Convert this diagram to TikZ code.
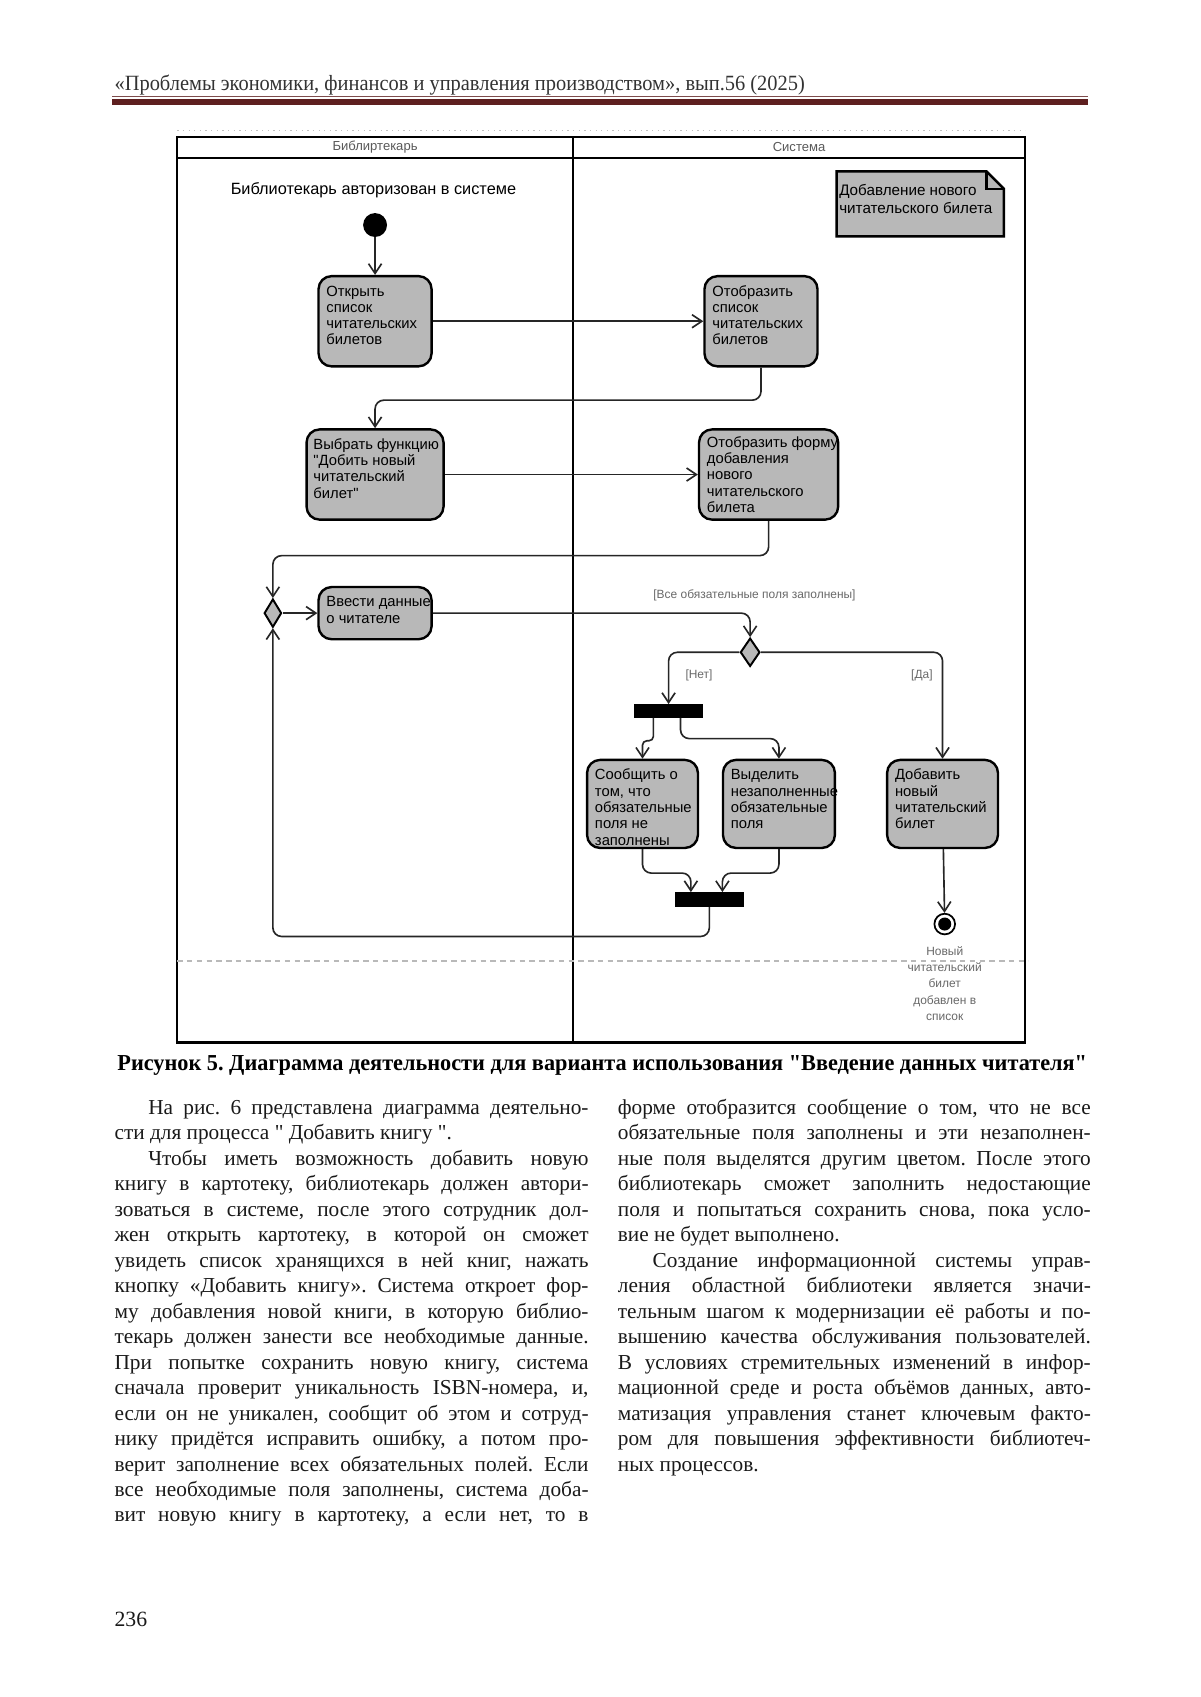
\documentclass[tikz,border=0pt]{standalone}
\usepackage{fontspec}
\usepackage{graphicx}
\setmainfont{Liberation Serif}
\newfontfamily\serif{Liberation Serif}
\newfontfamily\diag{Liberation Sans}
\usetikzlibrary{arrows.meta,shapes.geometric,fit,calc}
\definecolor{actgray}{RGB}{184,184,184}
\definecolor{rulered}{RGB}{94,32,32}
\definecolor{lblgray}{RGB}{105,105,105}
\newcommand\jline[4]{\node[body] (#1) at #2 {\makebox[#3][s]{#4}};}
\frenchspacing
\begin{document}
\frenchspacing
\begin{tikzpicture}[x=0.5pt,y=-0.5pt,
  act/.style={draw=black, line width=1.1pt, fill=actgray, rounded corners=6pt, inner sep=0pt},
  acttxt/.style={anchor=north west, inner sep=0pt, align=left, font=\diag\fontsize{6.8}{7.5}\selectfont},
  flow/.style={draw=black!85, line width=0.75pt, rounded corners=4pt, -{Straight Barb[length=4.5pt,width=6pt]}},
  barnode/.style={fill=black, draw=black, inner sep=0pt},
  guard/.style={font=\diag\fontsize{5.5}{7.5}\selectfont, text=lblgray, inner sep=0pt},
  lane/.style={font=\diag\fontsize{6}{7}\selectfont, text=black!65, inner sep=0pt},
  body/.style={anchor=base west, inner sep=0pt, font=\serif\frenchspacing\fontsize{9.8}{11.7}\selectfont, text=black!90},
  merge/.style={diamond, draw=black, line width=0.9pt, fill=actgray, inner sep=0pt}
]
\useasboundingbox (0,0) rectangle (1104,1561);
\fill[white] (0,0) rectangle (1104,1561);

% ---------- page header ----------
\node[anchor=base west, inner sep=0pt, text=black!80] (hdr) at (105,83)
  {\resizebox{317.5pt}{\height}{\serif\fontsize{10}{12}\selectfont «Проблемы экономики, финансов и управления производством», вып.56 (2025)}};
\fill[rulered!80] (103,88.3) rectangle (1001,89.3);
\fill[rulered] (103,91) rectangle (1001,97);

% ---------- diagram frame ----------
\draw[gray!50, dotted, line width=0.6pt] (163,120) -- (943,120);
\draw[line width=1pt] (163,126) rectangle (943,959);
\draw[line width=1pt] (163,145) -- (943,145);
\draw[line width=1pt] (527,126) -- (527,959);
\node[lane] (h1) at (345,135.5) {Библиртекарь};
\node[lane] (h2) at (735,135.5) {Система};
\draw[gray!55, dash pattern=on 2.5pt off 2pt, line width=0.5pt] (163,884) -- (946,884);

% ---------- note ----------
\node[fit={(770,158) (923,217)}, inner sep=0pt] (note) {};
\draw[line width=1.1pt, fill=actgray] (note.north west) -- ($(note.north east)+(-16,0)$) -- ($(note.north east)+(0,16)$) -- (note.south east) -- (note.south west) -- cycle;
\draw[line width=1pt] ($(note.north east)+(-16,0)$) -- ($(note.north east)+(-16,16)$) -- ($(note.north east)+(0,16)$);
\node[acttxt, font=\diag\fontsize{7}{8}\selectfont] (notet) at ($(note.north west)+(2,9)$) {\rule{0pt}{6.5pt}Добавление нового\\читательского билета};

% ---------- start ----------
\node[font=\diag\fontsize{7.5}{8}\selectfont, inner sep=0pt] (title) at (343.5,175) {Библиотекарь авторизован в системе};
\node[circle, fill=black, minimum size=11pt, inner sep=0pt] (init) at (345,207) {};

% ---------- activities ----------
\node[act, fit={(293,254) (397,337)}] (b1) {};
\node[acttxt] (b1t) at ($(b1.north west)+(8,7)$) {\rule{0pt}{6pt}Открыть\\список\\читательских\\билетов};
\node[act, fit={(648,254) (752,337)}] (b2) {};
\node[acttxt] (b2t) at ($(b2.north west)+(8,7)$) {\rule{0pt}{6pt}Отобразить\\список\\читательских\\билетов};
\node[act, fit={(282,395) (408,478)}] (b3) {};
\node[acttxt] (b3t) at ($(b3.north west)+(7,7)$) {\rule{0pt}{6pt}Выбрать функцию\\"Добить новый\\читательский\\билет"};
\node[act, fit={(643,395) (771,478)}] (b4) {};
\node[acttxt] (b4t) at ($(b4.north west)+(8,5)$) {\rule{0pt}{6pt}Отобразить форму\\добавления\\нового\\читательского\\билета};
\node[merge, minimum width=8pt, minimum height=13pt] (m) at (251,564) {};
\node[act, fit={(293,540) (397,588)}] (b5) {};
\node[acttxt] (b5t) at ($(b5.north west)+(8,7)$) {\rule{0pt}{6pt}Ввести данные\\о читателе};
\node[merge, minimum width=9pt, minimum height=13pt] (d) at (690,600) {};
\node[barnode, fit={(584,648) (646,660)}] (bar1) {};
\node[act, fit={(540,699) (642,780)}] (b6) {};
\node[acttxt] (b6t) at ($(b6.north west)+(8,7)$) {\rule{0pt}{6pt}Сообщить о\\том, что\\обязательные\\поля не\\заполнены};
\node[act, fit={(665,699) (768,780)}] (b7) {};
\node[acttxt] (b7t) at ($(b7.north west)+(8,7)$) {\rule{0pt}{6pt}Выделить\\незаполненные\\обязательные\\поля};
\node[act, fit={(816,699) (918,780)}] (b8) {};
\node[acttxt] (b8t) at ($(b8.north west)+(8,7)$) {\rule{0pt}{6pt}Добавить\\новый\\читательский\\билет};
\node[barnode, fit={(621,821) (684,834)}] (bar2) {};
\node[circle, draw=black, line width=0.8pt, minimum size=9.5pt, inner sep=0pt] (fin) at (869,850) {};
\node[circle, fill=black, minimum size=6pt, inner sep=0pt] (finc) at (fin) {};

% ---------- labels ----------
\node[guard] (g1) at (694,548) {[Все обязательные поля заполнены]};
\node[guard] (g2) at (643,621) {[Нет]};
\node[guard] (g3) at (848,621) {[Да]};
\node[guard, align=center, anchor=north] (fint) at (869,870) {Новый\\читательский\\билет\\добавлен в\\список};

% ---------- connectors ----------
\draw[flow] (init) -- (b1);
\draw[flow] (b1) -- (b2);
\draw[flow] (b2.south) -- ++(0,30) -| (b3.north);
\draw[flow] (b3) -- (b4);
\draw[flow] (b4.south) -- ++(0,32) -| (m.north);
\draw[flow] (m) -- (b5);
\draw[flow] (b5.east) -| (d.north);
\draw[flow] (d.west) -| (bar1.north);
\draw[flow] (d.east) -| (b8.north);
\draw[flow, rounded corners=2pt] ($(bar1.south)+(-14,0)$) -- ++(0,21) -| (b6.north);
\draw[flow] ($(bar1.south)+(11,0)$) -- ++(0,19) -| (b7.north);
\draw[flow] (b6.south) -- ++(0,22) -| ($(bar2.north)+(-17,0)$);
\draw[flow] (b7.south) -- ++(0,22) -| ($(bar2.north)+(12,0)$);
\draw[flow] (bar2.south) -- ++(0,27) -| (m.south);
\draw[flow] (b8) -- (fin);

% ---------- caption ----------
\node[inner sep=0pt] (cap) at (554,980) {\resizebox{446pt}{\height}{\serif\bfseries\fontsize{10.5}{12}\selectfont Рисунок 5. Диаграмма деятельности для варианта использования "Введение данных читателя"}};

% ---------- left column ----------
\jline{L1}{(136,1025)}{202.5pt}{На рис. 6 представлена диаграмма деятельно-}
\node[body] (L2) at (105,1048.4) {сти для процесса " Добавить книгу ".};
\jline{L3}{(136,1071.9)}{202.5pt}{Чтобы иметь возможность добавить новую}
\jline{L4}{(105,1095.3)}{218pt}{книгу в картотеку, библиотекарь должен автори-}
\jline{L5}{(105,1118.8)}{218pt}{зоваться в системе, после этого сотрудник дол-}
\jline{L6}{(105,1142.2)}{218pt}{жен открыть картотеку, в которой он сможет}
\jline{L7}{(105,1165.6)}{218pt}{увидеть список хранящихся в ней книг, нажать}
\jline{L8}{(105,1189.1)}{218pt}{кнопку «Добавить книгу». Система откроет фор-}
\jline{L9}{(105,1212.5)}{218pt}{му добавления новой книги, в которую библио-}
\jline{L10}{(105,1236.0)}{218pt}{текарь должен занести все необходимые данные.}
\jline{L11}{(105,1259.4)}{218pt}{При попытке сохранить новую книгу, система}
\jline{L12}{(105,1282.8)}{218pt}{сначала проверит уникальность ISBN-номера, и,}
\jline{L13}{(105,1306.3)}{218pt}{если он не уникален, сообщит об этом и сотруд-}
\jline{L14}{(105,1329.7)}{218pt}{нику придётся исправить ошибку, а потом про-}
\jline{L15}{(105,1353.2)}{218pt}{верит заполнение всех обязательных полей. Если}
\jline{L16}{(105,1376.6)}{218pt}{все необходимые поля заполнены, система доба-}
\jline{L17}{(105,1400.0)}{218pt}{вит новую книгу в картотеку, а если нет, то в}

% ---------- right column ----------
\jline{R1}{(568,1025)}{217.5pt}{форме отобразится сообщение о том, что не все}
\jline{R2}{(568,1048.4)}{217.5pt}{обязательные поля заполнены и эти незаполнен-}
\jline{R3}{(568,1071.9)}{217.5pt}{ные поля выделятся другим цветом. После этого}
\jline{R4}{(568,1095.3)}{217.5pt}{библиотекарь сможет заполнить недостающие}
\jline{R5}{(568,1118.8)}{217.5pt}{поля и попытаться сохранить снова, пока усло-}
\node[body] (R6) at (568,1142.2) {вие не будет выполнено.};
\jline{R7}{(600,1165.6)}{201.5pt}{Создание информационной системы управ-}
\jline{R8}{(568,1189.1)}{217.5pt}{ления областной библиотеки является значи-}
\jline{R9}{(568,1212.5)}{217.5pt}{тельным шагом к модернизации её работы и по-}
\jline{R10}{(568,1236.0)}{217.5pt}{вышению качества обслуживания пользователей.}
\jline{R11}{(568,1259.4)}{217.5pt}{В условиях стремительных изменений в инфор-}
\jline{R12}{(568,1282.8)}{217.5pt}{мационной среде и роста объёмов данных, авто-}
\jline{R13}{(568,1306.3)}{217.5pt}{матизация управления станет ключевым факто-}
\jline{R14}{(568,1329.7)}{217.5pt}{ром для повышения эффективности библиотеч-}
\node[body] (R15) at (568,1353.2) {ных процессов.};

% ---------- page number ----------
\node[body, font=\serif\fontsize{10}{12}\selectfont] (pg) at (105,1496) {236};
\end{tikzpicture}
\end{document}
